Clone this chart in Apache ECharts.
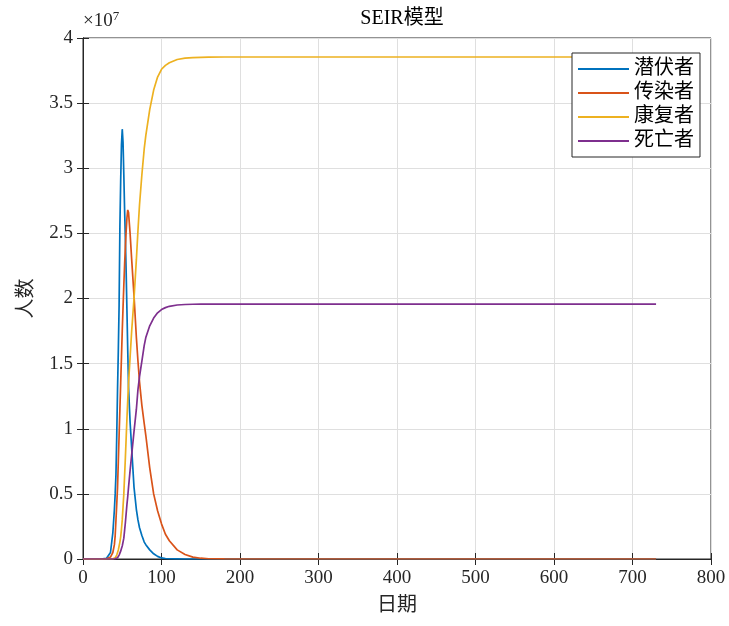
<!DOCTYPE html>
<html>
<head>
<meta charset="utf-8">
<script src="https://cdn.jsdelivr.net/npm/echarts@6/dist/echarts.min.js"></script>
<style>html,body{margin:0;padding:0;background:#fff;}#c{width:729px;height:626px;}</style>
</head>
<body>
<div id="c"></div>
<script>
// values in units of 1e7 people
const days = [0, 20, 25, 30, 35, 38, 40, 41, 42, 43, 44, 45, 46, 47, 48, 49, 50, 51, 52, 53, 54, 55, 56, 57, 58, 60, 62, 65, 68, 70, 72, 75, 78, 80, 85, 90, 95, 100, 105, 110, 120, 130, 140, 150, 160, 180, 200, 300, 400, 500, 600, 730];
const exposed = [0, 0, 0.001, 0.006, 0.05, 0.2, 0.38, 0.5, 0.65, 0.95, 1.3, 1.6, 1.95, 2.55, 2.9, 3.18, 3.3, 3.2, 2.95, 2.68, 2.45, 2.2, 1.9, 1.6, 1.32, 1.05, 0.85, 0.55, 0.38, 0.3, 0.24, 0.18, 0.13, 0.11, 0.07, 0.04, 0.02, 0.008, 0.004, 0.002, 0.001, 0, 0, 0, 0, 0, 0, 0, 0, 0, 0, 0];
const infected = [0, 0, 0, 0.002, 0.015, 0.05, 0.11, 0.18, 0.3, 0.42, 0.55, 0.75, 0.95, 1.15, 1.35, 1.55, 1.75, 1.93, 2.1, 2.26, 2.4, 2.52, 2.62, 2.68, 2.66, 2.5, 2.3, 2.02, 1.7, 1.52, 1.36, 1.18, 1.04, 0.95, 0.7, 0.5, 0.37, 0.27, 0.19, 0.14, 0.07, 0.035, 0.014, 0.006, 0.002, 0.0005, 0, 0, 0, 0, 0, 0];
const recovered = [0, 0, 0, 0, 0, 0.002, 0.005, 0.01, 0.02, 0.03, 0.05, 0.07, 0.1, 0.13, 0.17, 0.23, 0.3, 0.4, 0.5, 0.64, 0.78, 0.93, 1.08, 1.22, 1.35, 1.55, 1.75, 2.0, 2.3, 2.52, 2.72, 2.95, 3.15, 3.25, 3.45, 3.6, 3.7, 3.76, 3.79, 3.81, 3.835, 3.845, 3.85, 3.852, 3.853, 3.854, 3.854, 3.854, 3.854, 3.854, 3.854, 3.854];
const dead = [0, 0, 0, 0, 0, 0, 0, 0.002, 0.004, 0.007, 0.01, 0.02, 0.03, 0.045, 0.06, 0.08, 0.1, 0.13, 0.16, 0.22, 0.28, 0.35, 0.42, 0.48, 0.55, 0.68, 0.8, 0.98, 1.15, 1.3, 1.4, 1.52, 1.64, 1.7, 1.79, 1.85, 1.89, 1.915, 1.93, 1.94, 1.95, 1.954, 1.956, 1.957, 1.957, 1.957, 1.957, 1.957, 1.957, 1.957, 1.957, 1.957];
const seriesNames = ['潜伏者', '传染者', '康复者', '死亡者'];
const seriesColors = ['#0072BD', '#D95319', '#EDB120', '#7E2F8E'];
const seriesValues = [exposed, infected, recovered, dead];

const FONT = '"Liberation Serif", "Times New Roman", "Noto Sans CJK SC", serif';
const chart = echarts.init(document.getElementById('c'), null, {renderer: 'canvas'});
const grid = {left: 83, right: 18, top: 38, bottom: 67, show: true, borderColor: '#262626', borderWidth: 1, backgroundColor: '#fff'};
const tickStyle = {show: true, inside: true, length: 6, lineStyle: {color: '#262626', width: 1}};
chart.setOption({
  animation: false,
  backgroundColor: '#fff',
  title: {text: 'SEIR模型', left: 397, top: 4, textAlign: 'center',
    textStyle: {fontFamily: FONT, fontSize: 20, fontWeight: 'normal', color: '#000'}},
  grid: grid,
  legend: {
    orient: 'vertical', left: 572, top: 53,
    data: seriesNames,
    itemWidth: 51, itemHeight: 14, itemGap: 4,
    padding: [6, 6, 6, 5],
    backgroundColor: '#fff', borderColor: '#262626', borderWidth: 1, borderRadius: 0,
    textStyle: {fontFamily: FONT, fontSize: 20, color: '#000', lineHeight: 20},
    itemStyle: {opacity: 0}
  },
  graphic: [{
    type: 'text', left: 83, top: 10,
    style: {
      text: '×10{s|7}', fontFamily: FONT, fontSize: 19, fill: '#262626',
      rich: {s: {fontSize: 13, verticalAlign: 'top', fontFamily: FONT, fill: '#262626', padding: [0, 0, 9, 0]}}
    }
  }],
  xAxis: [{
    type: 'value', min: 0, max: 800, interval: 100, position: 'bottom',
    name: '日期', nameLocation: 'middle', nameGap: 37,
    nameTextStyle: {fontFamily: FONT, fontSize: 20, color: '#262626'},
    axisLine: {show: true, lineStyle: {color: '#262626', width: 1}},
    axisTick: tickStyle,
    axisLabel: {fontFamily: FONT, fontSize: 19, color: '#262626', margin: 10},
    splitLine: {show: true, lineStyle: {color: '#dfdfdf', width: 1}}
  }, {
    type: 'value', min: 0, max: 800, interval: 100, position: 'top',
    axisLine: {show: true, lineStyle: {color: '#262626', width: 1}},
    axisTick: tickStyle, axisLabel: {show: false}, splitLine: {show: false}
  }],
  yAxis: [{
    type: 'value', min: 0, max: 4, interval: 0.5, position: 'left',
    name: '人数', nameLocation: 'middle', nameGap: 46, nameRotate: 90,
    nameTextStyle: {fontFamily: FONT, fontSize: 20, color: '#262626'},
    axisLine: {show: true, lineStyle: {color: '#262626', width: 1}},
    axisTick: tickStyle,
    axisLabel: {fontFamily: FONT, fontSize: 19, color: '#262626', margin: 10},
    splitLine: {show: true, lineStyle: {color: '#dfdfdf', width: 1}}
  }, {
    type: 'value', min: 0, max: 4, interval: 0.5, position: 'right',
    axisLine: {show: true, lineStyle: {color: '#262626', width: 1}},
    axisTick: tickStyle, axisLabel: {show: false}, splitLine: {show: false}
  }],
  series: seriesNames.map((name, i) => ({
    name: name, type: 'line', xAxisIndex: 0, yAxisIndex: 0,
    showSymbol: false, symbol: 'none', smooth: false,
    color: seriesColors[i],
    lineStyle: {color: seriesColors[i], width: 1.7},
    data: days.map((d, j) => [d, seriesValues[i][j]])
  }))
});
</script>
</body>
</html>
